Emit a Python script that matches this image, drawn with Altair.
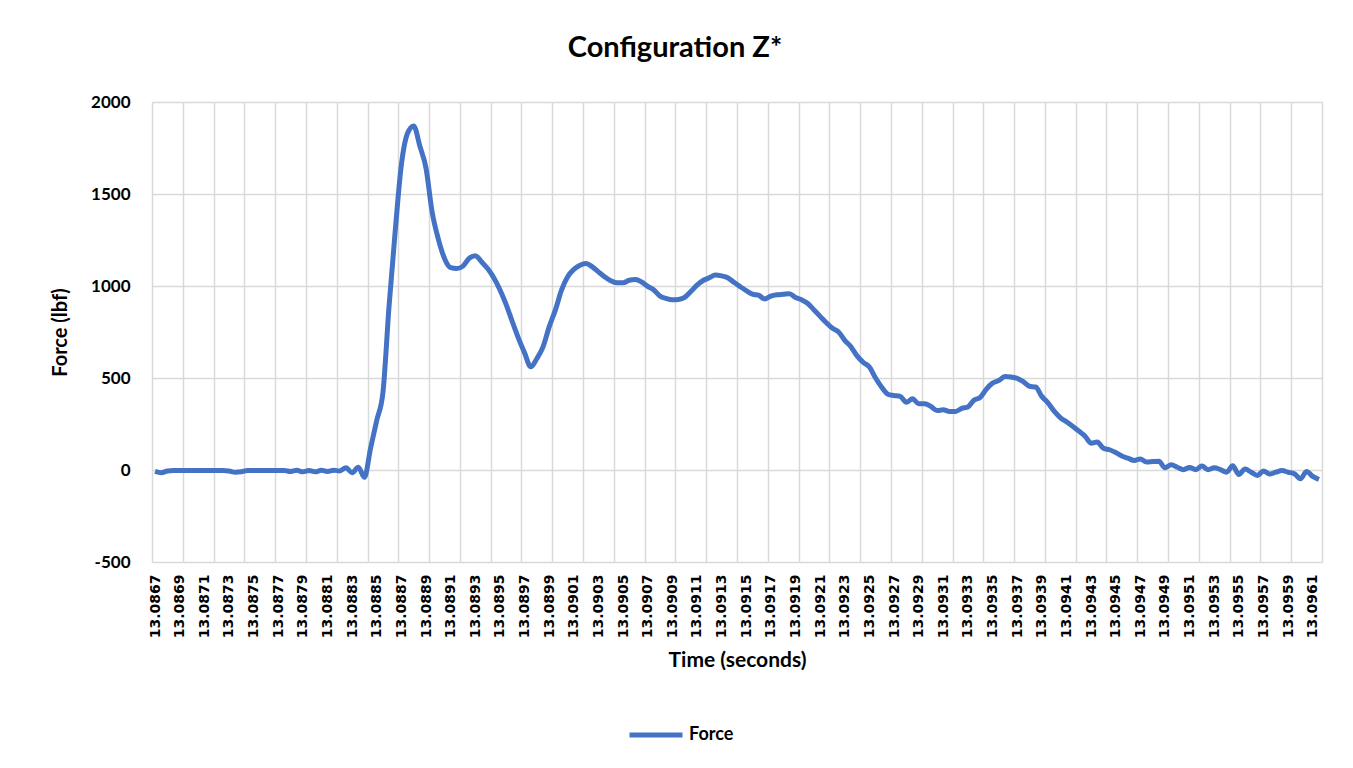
import altair as alt
import pandas as pd

# Time categories: 190 samples, 0.00005 s apart, starting at 13.0867 s
t0 = 13.0867
step = 0.00005
n_points = 190

force = [
    -8, -15, -5, -3, -3, -3, -3, -3, -3, -3,
    -3, -3, -5, -12, -10, -3, -3, -3, -3, -3,
    -3, -3, -8, -2, -10, -3, -10, -2, -8, -2,
    -5, 12, -15, 15, -40, 120, 270, 420, 893, 1300,
    1660, 1830, 1870, 1760, 1640, 1400, 1255, 1150, 1100, 1095,
    1108, 1150, 1165, 1132, 1095, 1045, 980, 900, 807, 717,
    637, 561, 606, 669, 778, 869, 977, 1050, 1090, 1113,
    1122, 1104, 1077, 1050, 1028, 1017, 1017, 1031, 1035, 1022,
    998, 978, 945, 932, 925, 927, 938, 970, 1005, 1030,
    1045, 1060, 1055, 1045, 1020, 997, 975, 956, 950, 930,
    945, 952, 955, 958, 938, 925, 905, 870, 835, 800,
    770, 750, 705, 670, 620, 585, 560, 500, 450, 412,
    405, 400, 368, 387, 360, 360, 345, 323, 327, 318,
    318, 335, 343, 380, 395, 440, 472, 486, 508, 505,
    498, 480, 455, 451, 400, 365, 320, 285, 262, 238,
    212, 185, 146, 152, 118, 110, 95, 76, 64, 52,
    60, 44, 46, 48, 12, 28, 15, 2, 14, 2,
    22, 2, 12, 2, -12, 23, -24, 5, -12, -30,
    -5, -22, -12, -3, -12, -20, -48, -8, -35, -52,
]

times = [round(t0 + k * step, 6) for k in range(n_points)]
label_times = [round(t0 + 0.0002 * m, 4) for m in range(48)]          # every 4th category
grid_times = [round(t0 - step / 2 + 5 * step * j, 6) for j in range(39)]  # every 5th category boundary
y_ticks = [-500, 0, 500, 1000, 1500, 2000]

df = pd.DataFrame({"t": times, "Force": force, "series": ["Force"] * n_points})

x_domain = [t0 - step / 2, t0 + (n_points - 0.5) * step]
xscale = alt.Scale(domain=x_domain, nice=False, zero=False)
yscale = alt.Scale(domain=[-500, 2000], nice=False)

y_enc = alt.Y(
    "Force:Q",
    scale=yscale,
    axis=alt.Axis(
        values=y_ticks, labelExpr="'' + datum.value", title="Force (lbf)",
        grid=True, domain=False, ticks=False,
        tickSize=0, labelPadding=22, labelFont="Lato", labelFontSize=17,
        labelFontWeight="bold", labelColor="#000000", titleFont="Lato",
        titleFontSize=20, titleFontWeight="bold", titleColor="#000000",
        titlePadding=20, gridColor="#d9d9d9", gridWidth=1.5,
    ),
)

label_layer = alt.Chart(df).mark_line(opacity=0).encode(
    x=alt.X(
        "t:Q",
        scale=xscale,
        axis=alt.Axis(
            orient="bottom", values=label_times, format=".4f", labelAngle=-90,
            grid=False, domain=False, ticks=False, tickSize=0, labelPadding=12,
            labelFont="DejaVu Sans", labelFontSize=14, labelFontWeight="bold",
            labelColor="#000000", labelOverlap=False, labelFlush=False,
            title="Time (seconds)", titleFont="Lato", titleFontSize=21,
            titleFontWeight="bold", titleColor="#000000", titlePadding=12,
        ),
    ),
    y=y_enc,
)

line_layer = alt.Chart(df).mark_line(strokeWidth=5, interpolate="monotone").encode(
    x=alt.X(
        "t:Q",
        scale=xscale,
        axis=alt.Axis(
            orient="top", values=grid_times, labels=False, ticks=False, tickSize=0,
            domain=False, grid=True, gridColor="#d9d9d9", gridWidth=1.5, title=None,
        ),
    ),
    y=y_enc,
    color=alt.Color(
        "series:N",
        scale=alt.Scale(domain=["Force"], range=["#4472C4"]),
        legend=alt.Legend(
            title=None, orient="none", legendX=475, legendY=604,
            symbolType="stroke", symbolSize=2809, symbolStrokeWidth=5,
            labelFont="Lato", labelFontSize=18, labelFontWeight="bold",
            labelColor="#000000", labelOffset=4,
        ),
    ),
)

chart = (
    alt.layer(label_layer, line_layer)
    .resolve_axis(x="independent")
    .properties(
        width=1170,
        height=460,
        padding={"left": 144, "top": 94, "right": 23, "bottom": 198},
        autosize=alt.AutoSizeParams(type="none"),
        title=alt.TitleParams(
            "Configuration Z*", font="Lato", fontSize=29, fontWeight="bold",
            color="#000000", anchor="middle", dx=-62, offset=30,
        ),
    )
    .configure_view(stroke=None)
    .configure(background="white")
)

chart.save("out.html", embed_options={"renderer": "svg", "actions": False})
